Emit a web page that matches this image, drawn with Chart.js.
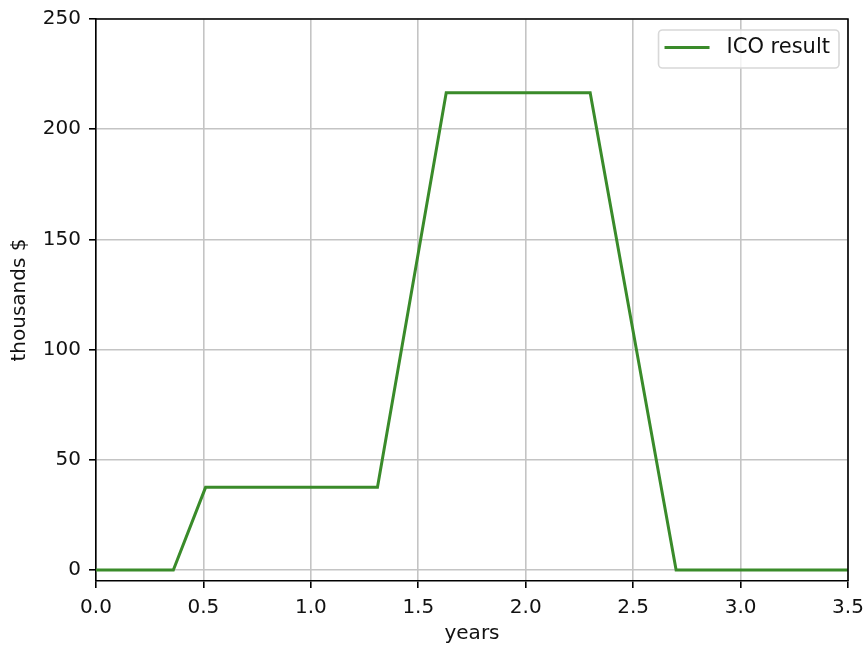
<!DOCTYPE html>
<html>
<head>
<meta charset="utf-8">
<script src="https://cdn.jsdelivr.net/npm/chart.js@4"></script>
<style>
  html, body { margin: 0; padding: 0; background: #fff; }
  #wrap { width: 864px; height: 646px; }
</style>
</head>
<body>
<div id="wrap"><canvas id="icoChart" width="864" height="646"></canvas></div>
<script>
// values
const years = [0, 0.36, 0.51, 1.31, 1.63, 2.30, 2.70, 3.5];
const icoResult = [0, 0, 37.5, 37.5, 216.5, 216.5, 0, 0];
const xTicks = [0, 0.5, 1.0, 1.5, 2.0, 2.5, 3.0, 3.5];
const yTicks = [0, 50, 100, 150, 200, 250];
const seriesLabel = "ICO result";

const green = "#3a8b2a";
const gridGrey = "#c4c4c4";
const font = { family: "'DejaVu Sans', sans-serif", size: 20 };

// matplotlib style frame + legend box in the upper right
const frameAndLegend = {
  id: "frameAndLegend",
  afterDraw(chart) {
    const ctx = chart.ctx;
    const a = chart.chartArea;
    ctx.save();
    ctx.strokeStyle = "#000";
    ctx.lineWidth = 1.6;
    ctx.beginPath();
    ctx.moveTo(a.left, a.top);
    ctx.lineTo(a.right, a.top);
    ctx.lineTo(a.right, a.bottom);
    ctx.stroke();

    ctx.font = "21px 'DejaVu Sans', sans-serif";
    const tw = ctx.measureText(seriesLabel).width;
    const w = 6 + 45 + 17 + tw + 9;
    const h = 38;
    const x0 = a.right - 9 - w;
    const y0 = a.top + 11;
    ctx.beginPath();
    ctx.roundRect(x0, y0, w, h, 4);
    ctx.fillStyle = "rgba(255,255,255,0.8)";
    ctx.fill();
    ctx.strokeStyle = "#d8d8d8";
    ctx.lineWidth = 1.6;
    ctx.stroke();

    const cy = y0 + 17.5;
    ctx.strokeStyle = green;
    ctx.lineWidth = 3;
    ctx.beginPath();
    ctx.moveTo(x0 + 6, cy);
    ctx.lineTo(x0 + 51, cy);
    ctx.stroke();

    ctx.fillStyle = "#111";
    ctx.textBaseline = "middle";
    ctx.textAlign = "left";
    ctx.fillText(seriesLabel, x0 + 68, cy);
    ctx.restore();
  }
};

new Chart(document.getElementById("icoChart"), {
  type: "line",
  data: {
    datasets: [{
      label: seriesLabel,
      data: years.map((x, i) => ({ x: x, y: icoResult[i] })),
      borderColor: green,
      borderWidth: 3,
      pointRadius: 0,
      tension: 0,
      fill: false
    }]
  },
  options: {
    responsive: false,
    animation: false,
    layout: { padding: { top: 19, right: 16, left: 0, bottom: 0 } },
    plugins: {
      legend: { display: false },
      tooltip: { enabled: false }
    },
    scales: {
      x: {
        type: "linear",
        min: 0,
        max: 3.5,
        afterBuildTicks: s => { s.ticks = xTicks.map(v => ({ value: v })); },
        afterFit: s => { s.height = 65; s.paddingLeft = 0; s.paddingRight = 0; },
        ticks: {
          font: font,
          color: "#111",
          padding: 8,
          maxRotation: 0,
          callback: v => Number(v).toFixed(1)
        },
        grid: {
          color: gridGrey,
          lineWidth: 1.6,
          tickColor: "#000",
          tickLength: 7
        },
        border: { display: true, color: "#000", width: 1.6 },
        title: {
          display: true,
          text: "years",
          font: font,
          color: "#111",
          padding: { top: 0, bottom: 0 }
        }
      },
      y: {
        type: "linear",
        min: -5,
        max: 250,
        afterBuildTicks: s => { s.ticks = yTicks.map(v => ({ value: v })); },
        afterFit: s => { s.width = 96; s.paddingTop = 0; s.paddingBottom = 0; },
        ticks: {
          font: font,
          color: "#111",
          padding: 8
        },
        grid: {
          color: gridGrey,
          lineWidth: 1.6,
          tickColor: "#000",
          tickLength: 7
        },
        border: { display: true, color: "#000", width: 1.6 },
        title: {
          display: true,
          text: "thousands $",
          font: font,
          color: "#111",
          padding: { top: 8, bottom: 0 }
        }
      }
    }
  },
  plugins: [frameAndLegend]
});
</script>
</body>
</html>
